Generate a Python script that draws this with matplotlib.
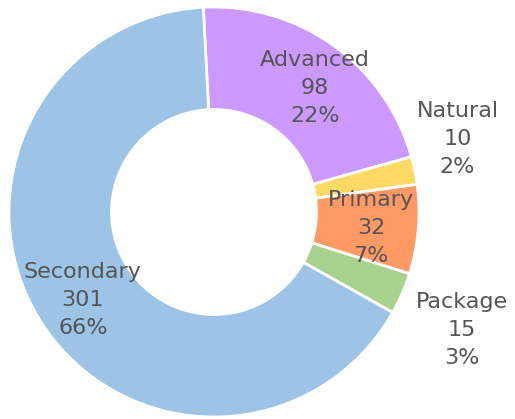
import numpy as np
import matplotlib.pyplot as plt

# categories and counts, going clockwise from the top
labels = ['Advanced', 'Natural', 'Primary', 'Package', 'Secondary']
counts = [98, 10, 32, 15, 301]
percents = [22, 2, 7, 3, 66]
colors = ['#CC99FF', '#FFD966', '#FF9966', '#A9D18E', '#9DC3E6']

# label placement: radius (in pie units) and angle nudge in degrees
label_r = [0.78, 1.24, 0.77, 1.34, 0.77]
label_da = [-3.5, 5.0, -1.0, -2.0, 2.0]

fig = plt.figure(figsize=(5.15, 4.19), dpi=100)
ax = fig.add_axes([0, 0, 1, 1])

start = 93.0
wedges, _ = ax.pie(counts, colors=colors, startangle=start, counterclock=False,
                   radius=1.0, wedgeprops=dict(width=0.5, edgecolor='white', linewidth=2))

cx, cy, rpx = 214, 212, 205  # pie centre and radius in pixels
W, H = 515, 419
ax.set_xlim(-cx / rpx, (W - cx) / rpx)
ax.set_ylim(-(H - cy) / rpx, cy / rpx)
ax.set_aspect('auto')
ax.axis('off')

for w, lab, n, p, r, da in zip(wedges, labels, counts, percents, label_r, label_da):
    mid = (w.theta1 + w.theta2) / 2 + da
    x = r * np.cos(np.radians(mid))
    y = r * np.sin(np.radians(mid))
    ax.text(x, y, f'{lab}\n{n}\n{p}%', ha='center', va='center',
            fontsize=16, color='#555555', linespacing=1.5,
            family=['DejaVu Sans'])

fig.savefig('out.png', dpi=100)
